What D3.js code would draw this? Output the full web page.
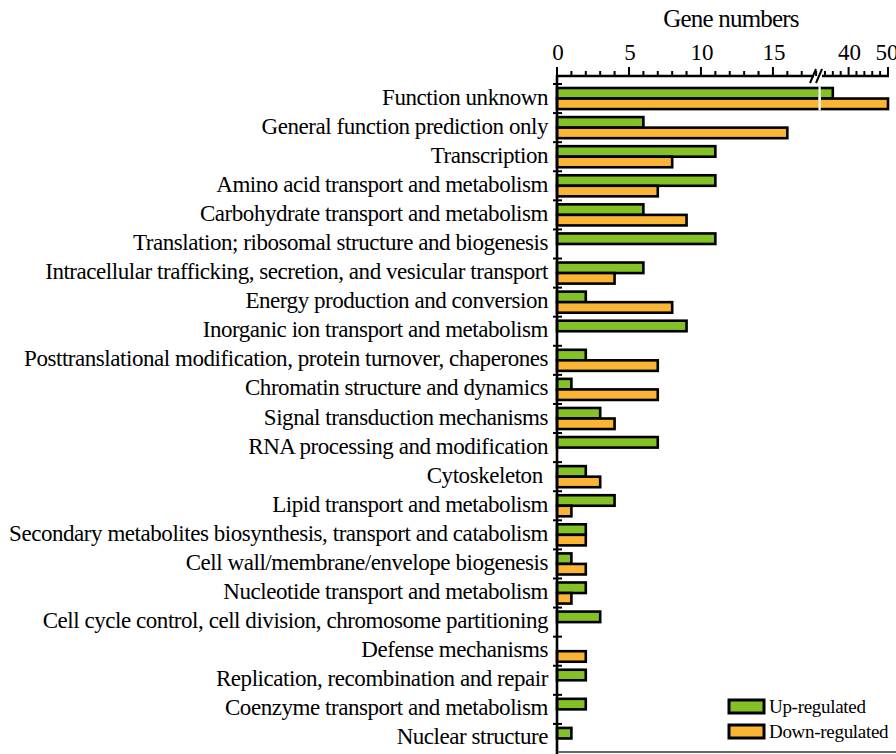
<!DOCTYPE html>
<html>
<head>
<meta charset="utf-8">
<script src="https://cdn.jsdelivr.net/npm/d3@7"></script>
<style>
  body { margin: 0; background: #fff; }
</style>
</head>
<body>
<div id="chart"></div>
<script>
const categories = [
    "Function unknown",
    "General function prediction only",
    "Transcription",
    "Amino acid transport and metabolism",
    "Carbohydrate transport and metabolism",
    "Translation; ribosomal structure and biogenesis",
    "Intracellular trafficking, secretion, and vesicular transport",
    "Energy production and conversion",
    "Inorganic ion transport and metabolism",
    "Posttranslational modification, protein turnover, chaperones",
    "Chromatin structure and dynamics",
    "Signal transduction mechanisms",
    "RNA processing and modification",
    "Cytoskeleton ",
    "Lipid transport and metabolism",
    "Secondary metabolites biosynthesis, transport and catabolism",
    "Cell wall/membrane/envelope biogenesis",
    "Nucleotide transport and metabolism",
    "Cell cycle control, cell division, chromosome partitioning",
    "Defense mechanisms",
    "Replication, recombination and repair",
    "Coenzyme transport and metabolism",
    "Nuclear structure"
];
const upValues = [36, 6, 11, 11, 6, 11, 6, 2, 9, 2, 1, 3, 7, 2, 4, 2, 1, 2, 3, 0, 2, 2, 1];
const downValues = [50, 16, 8, 7, 9, 0, 4, 8, 0, 7, 7, 4, 0, 3, 1, 2, 2, 1, 0, 2, 0, 0, 0];
const lowTicks = d3.range(0, 19);
const lowLabels = [0, 5, 10, 15];
const highTicks = [34, 36, 38, 40, 42, 44, 46, 48, 50];
const highLabels = [40, 50];
const seriesNames = ["Up-regulated", "Down-regulated"];
const colors = ["#84c126", "#fbb535"];

const width = 896, height = 754;
const x0 = 557, axisY = 76;
const breakLow = 18.2, breakHigh = 33;
const serif = "Liberation Serif";

const svg = d3.select("#chart").append("svg")
    .attr("width", width)
    .attr("height", height)
    .style("display", "block");

// broken x scale
const xLow = d3.scaleLinear().domain([0, breakLow]).range([x0, 819]);
const xHigh = d3.scaleLinear().domain([breakHigh, 50]).range([821, 888]);
const x = (v) => (v <= breakLow ? xLow(v) : xHigh(v));

const y = d3.scaleBand().domain(categories).range([84, 753]);
const ySub = d3.scaleBand().domain(["up", "down"]).range([0, y.bandwidth()]).paddingOuter(0.38);

// bars
const rows = categories.map((c, i) => ({ cat: c, up: upValues[i], down: downValues[i] }));
const barData = [];
rows.forEach((r) => {
    if (r.up > 0) barData.push({ cat: r.cat, key: "up", v: r.up, color: colors[0] });
    if (r.down > 0) barData.push({ cat: r.cat, key: "down", v: r.down, color: colors[1] });
});

svg.append("g")
    .selectAll("rect")
    .data(barData)
    .join("rect")
    .attr("x", x0)
    .attr("y", (d) => y(d.cat) + ySub(d.key))
    .attr("width", (d) => x(d.v) - x0)
    .attr("height", ySub.bandwidth())
    .attr("fill", (d) => d.color)
    .attr("stroke", "#000")
    .attr("stroke-width", 2.6);

// white break line through bars that cross the gap
const broken = barData.filter((d) => d.v > breakLow);
svg.append("g")
    .selectAll("rect")
    .data(broken)
    .join("rect")
    .attr("x", 818.5)
    .attr("y", (d) => y(d.cat) + ySub(d.key) - 1.5)
    .attr("width", 2.2)
    .attr("height", ySub.bandwidth() + 3)
    .attr("fill", "#fff");

// top axis
const axis = svg.append("g");
axis.append("line")
    .attr("x1", x0).attr("x2", 814)
    .attr("y1", axisY).attr("y2", axisY)
    .attr("stroke", "#000").attr("stroke-width", 2.6);
axis.append("line")
    .attr("x1", 822).attr("x2", 889)
    .attr("y1", axisY).attr("y2", axisY)
    .attr("stroke", "#000").attr("stroke-width", 2.6);

axis.selectAll("line.lt")
    .data(lowTicks)
    .join("line")
    .attr("class", "lt")
    .attr("x1", (d) => xLow(d)).attr("x2", (d) => xLow(d))
    .attr("y1", axisY)
    .attr("y2", (d) => axisY - (d % 5 === 0 ? 9 : 5))
    .attr("stroke", "#000").attr("stroke-width", 2);
axis.selectAll("line.ht")
    .data(highTicks)
    .join("line")
    .attr("class", "ht")
    .attr("x1", (d) => xHigh(d)).attr("x2", (d) => xHigh(d))
    .attr("y1", axisY)
    .attr("y2", (d) => axisY - (highLabels.includes(d) ? 9 : 5))
    .attr("stroke", "#000").attr("stroke-width", 2);

axis.selectAll("text.ll")
    .data(lowLabels)
    .join("text")
    .attr("class", "ll")
    .attr("x", (d) => xLow(d) + 1)
    .attr("y", 60)
    .attr("text-anchor", "middle")
    .style("font-family", serif)
    .style("font-size", "23px")
    .text((d) => d);
axis.selectAll("text.hl")
    .data(highLabels)
    .join("text")
    .attr("class", "hl")
    .attr("x", (d, i) => xHigh(d) + 1 - i * 2)
    .attr("y", 60)
    .attr("text-anchor", "middle")
    .style("font-family", serif)
    .style("font-size", "23px")
    .text((d) => d);

// break marks
[813, 819].forEach((bx) => {
    axis.append("line")
        .attr("x1", bx - 3).attr("x2", bx + 3)
        .attr("y1", axisY + 7).attr("y2", axisY - 7)
        .attr("stroke", "#000").attr("stroke-width", 2);
});

svg.append("text")
    .attr("x", 731)
    .attr("y", 27)
    .attr("text-anchor", "middle")
    .style("font-family", serif)
    .style("font-size", "25px")
    .style("letter-spacing", "-0.8px")
    .text("Gene numbers");

// left axis
svg.append("line")
    .attr("x1", x0).attr("x2", x0)
    .attr("y1", axisY - 1).attr("y2", height)
    .attr("stroke", "#000").attr("stroke-width", 2.6);
svg.append("g")
    .selectAll("line")
    .data(categories)
    .join("line")
    .attr("x1", x0 - 4).attr("x2", x0 + 5)
    .attr("y1", (d) => y(d)).attr("y2", (d) => y(d))
    .attr("stroke", "#000").attr("stroke-width", 2);

svg.append("g")
    .selectAll("text")
    .data(categories)
    .join("text")
    .attr("x", 548)
    .attr("y", (d) => y(d) + y.bandwidth() / 2 + 6)
    .attr("text-anchor", "end")
    .style("font-family", serif)
    .style("font-size", "23px")
    .style("letter-spacing", "-0.45px")
    .style("white-space", "pre")
    .text((d) => d);

// bottom line
svg.append("line")
    .attr("x1", x0).attr("x2", width)
    .attr("y1", 752).attr("y2", 752)
    .attr("stroke", "#333").attr("stroke-width", 1.5);

// legend
const legend = svg.append("g").attr("transform", "translate(729,700)");
seriesNames.forEach((name, i) => {
    legend.append("rect")
        .attr("x", 0).attr("y", i * 25)
        .attr("width", 35).attr("height", 13)
        .attr("fill", colors[i])
        .attr("stroke", "#000").attr("stroke-width", 3);
    legend.append("text")
        .attr("x", 40).attr("y", i * 25 + 13)
        .style("font-family", serif)
        .style("font-size", "19px")
        .style("letter-spacing", "-0.3px")
        .text(name);
});
</script>
</body>
</html>
